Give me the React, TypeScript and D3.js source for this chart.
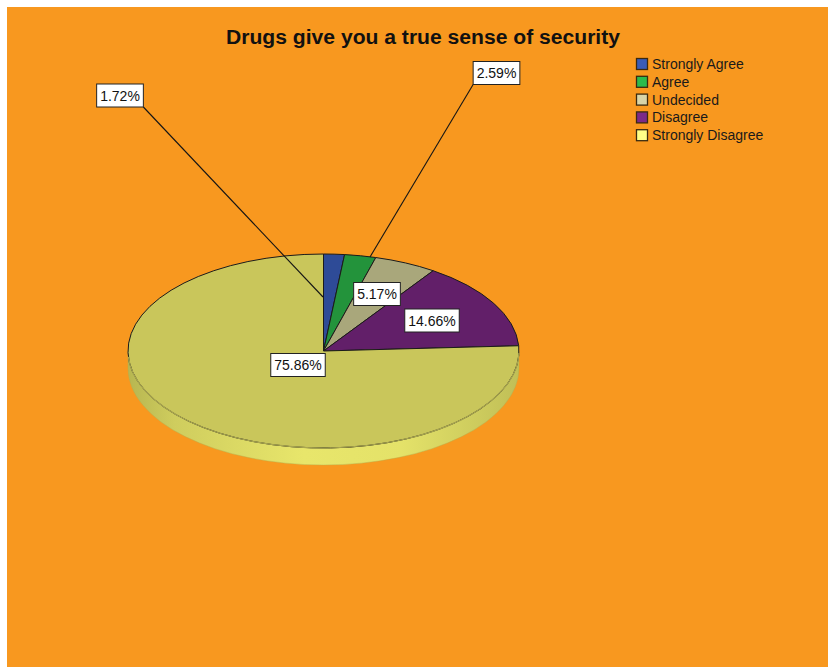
import React, { useEffect, useRef } from "react";
import * as d3 from "d3";

const title = "Drugs give you a true sense of security";
const categories = ["Strongly Agree", "Agree", "Undecided", "Disagree", "Strongly Disagree"];
const percents = [1.72, 2.59, 5.17, 14.66, 75.86];
const topColors = ["#2E4B97", "#23933B", "#A9A77B", "#621F69", "#C9C65B"];
const legendColors = ["#3A5CB8", "#2DBB4C", "#D8D4A8", "#7B2A88", "#FFFF88"];

// label placement (box centre and leader anchor, relative to the pie centre)
const labelLayout = [
  { dx: -203.5, dy: -255.5, ax: -0.5, ay: -54 },
  { dx: 173, dy: -278, ax: 46.5, ay: -94 },
  { dx: 53.5, dy: -57, ax: null, ay: null },
  { dx: 108.5, dy: -30.5, ax: null, ay: null },
  { dx: -25.5, dy: 14, ax: null, ay: null },
];

const W = 828;
const H = 667;
const cx = 323.5;
const cy = 351;
const rx = 195.5;
const ry = 97;
const depth = 17;
const FONT = "'Liberation Sans', Arial, sans-serif";

export default function App() {
  const ref = useRef<SVGSVGElement | null>(null);

  useEffect(() => {
    const svg = d3.select(ref.current);
    svg.selectAll("*").remove();

    const defs = svg.append("defs");
    const grad = defs
      .append("linearGradient")
      .attr("id", "wall")
      .attr("gradientUnits", "userSpaceOnUse")
      .attr("x1", cx - rx)
      .attr("x2", cx + rx)
      .attr("y1", 0)
      .attr("y2", 0);
    [
      [0, "#B7B651"],
      [0.12, "#CFCD5E"],
      [0.45, "#E8E66B"],
      [0.7, "#E4E269"],
      [1, "#C0BF57"],
    ].forEach(([o, c]) => grad.append("stop").attr("offset", o as number).attr("stop-color", c as string));

    svg.append("rect").attr("x", 7).attr("y", 7).attr("width", W - 7).attr("height", H - 7).attr("fill", "#F8981F");

    svg
      .append("text")
      .attr("x", 226)
      .attr("y", 44)
      .attr("font-family", FONT)
      .attr("font-weight", "bold")
      .attr("font-size", 20)
      .attr("textLength", 394)
      .attr("lengthAdjust", "spacingAndGlyphs")
      .attr("fill", "#111")
      .text(title);

    const pie = d3.pie<number>().sort(null).value((d) => d);
    const arcs = pie(percents);
    const pt = (a: number, dy = 0): [number, number] => [cx + rx * Math.sin(a), cy - ry * Math.cos(a) + dy];

    // side walls (front half)
    const wall = svg.append("g");
    arcs.forEach((a, i) => {
      const s = Math.max(a.startAngle, Math.PI / 2);
      const e = Math.min(a.endAngle, (3 * Math.PI) / 2);
      if (e <= s) return;
      const p0 = pt(s);
      const p1 = pt(e);
      const large = e - s > Math.PI ? 1 : 0;
      const d = `M${p0[0]},${p0[1]} A${rx},${ry} 0 ${large} 1 ${p1[0]},${p1[1]} L${p1[0]},${p1[1] + depth} A${rx},${ry} 0 ${large} 0 ${p0[0]},${p0[1] + depth} Z`;
      wall
        .append("path")
        .attr("d", d)
        .attr("fill", i === 4 ? "url(#wall)" : d3.color(topColors[i])!.brighter(0.3).toString())
        .attr("stroke", "#B0AE4E")
        .attr("stroke-width", 0.4);
    });

    // top face
    const arcGen = d3.arc<d3.PieArcDatum<number>>().innerRadius(0).outerRadius(rx);
    const top = svg.append("g").attr("transform", `translate(${cx},${cy}) scale(1,${ry / rx})`);
    top
      .selectAll("path")
      .data(arcs)
      .join("path")
      .attr("d", (d) => arcGen(d))
      .attr("fill", (_, i) => topColors[i])
      .attr("stroke", "#1b1b1b")
      .attr("stroke-width", 1)
      .attr("stroke-linejoin", "round")
      .attr("vector-effect", "non-scaling-stroke");

    // soften front rim
    const f0 = pt(Math.max(arcs[4].startAngle, Math.PI / 2) + 0.02);
    const f1 = pt((3 * Math.PI) / 2 - 0.06);
    svg
      .append("path")
      .attr("d", `M${f0[0]},${f0[1]} A${rx},${ry} 0 0 1 ${f1[0]},${f1[1]}`)
      .attr("fill", "none")
      .attr("stroke", "#A9A650")
      .attr("stroke-width", 1.2);

    // labels
    const lab = svg.append("g");
    labelLayout.forEach((L, i) => {
      const bx = cx + L.dx;
      const by = cy + L.dy;
      const t = lab
        .append("text")
        .attr("x", bx)
        .attr("y", by + 5)
        .attr("text-anchor", "middle")
        .attr("font-family", FONT)
        .attr("font-size", 14)
        .attr("fill", "#111")
        .text(`${percents[i].toFixed(2)}%`);
      const bb = (t.node() as SVGTextElement).getBBox();
      const w = bb.width + 7;
      const h = 23;
      const x0 = bx - w / 2;
      const y0 = by - h / 2;
      if (L.ax !== null && L.ay !== null) {
        const ax = cx + L.ax;
        const ay = cy + L.ay;
        const sx = ax > bx ? x0 + w : x0;
        const sy = ay > by ? y0 + h : y0;
        lab
          .insert("line", "text")
          .attr("x1", sx)
          .attr("y1", sy)
          .attr("x2", ax)
          .attr("y2", ay)
          .attr("stroke", "#151515")
          .attr("stroke-width", 1.1);
      }
      lab
        .insert("rect", () => t.node() as any)
        .attr("x", x0)
        .attr("y", y0)
        .attr("width", w)
        .attr("height", h)
        .attr("fill", "#fff")
        .attr("stroke", "#222")
        .attr("stroke-width", 1);
    });

    // legend
    const leg = svg.append("g").attr("transform", "translate(636,58)");
    categories.forEach((c, i) => {
      const g = leg.append("g").attr("transform", `translate(0,${i * 17.8})`);
      g.append("rect")
        .attr("x", 0.5)
        .attr("y", 0.5)
        .attr("width", 11)
        .attr("height", 11)
        .attr("fill", legendColors[i])
        .attr("stroke", "#3a2a10")
        .attr("stroke-width", 1.3);
      g.append("text")
        .attr("x", 16)
        .attr("y", 11)
        .attr("font-family", FONT)
        .attr("font-size", 14)
        .attr("fill", "#1a1a1a")
        .text(c);
    });
  }, []);

  return <svg ref={ref} width={W} height={H} style={{ position: "absolute", left: 0, top: 0, display: "block" }} />;
}
